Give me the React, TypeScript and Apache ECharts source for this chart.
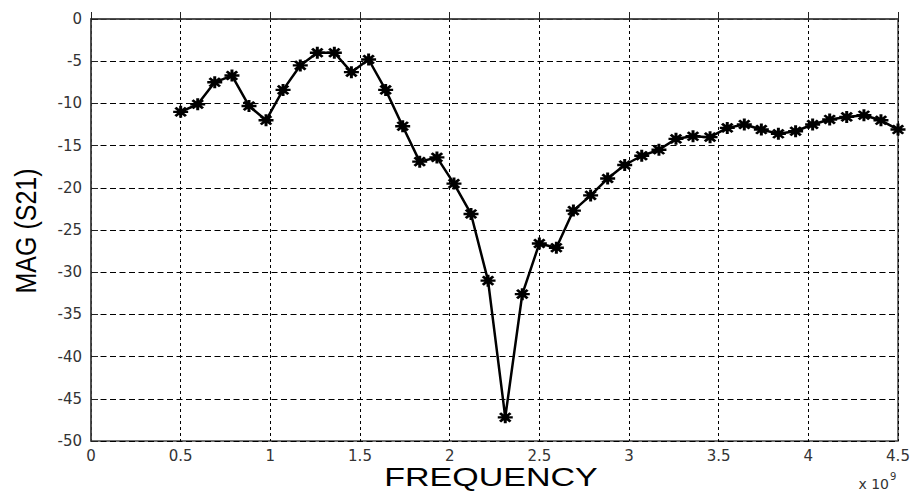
import React, { useEffect, useRef } from "react";
import * as echarts from "echarts";

const freqGHz: number[] = [
  0.5, 0.595, 0.69, 0.786, 0.881, 0.976, 1.071, 1.167, 1.262, 1.357, 1.452,
  1.548, 1.643, 1.738, 1.833, 1.929, 2.024, 2.119, 2.214, 2.31, 2.405, 2.5,
  2.595, 2.69, 2.786, 2.881, 2.976, 3.071, 3.167, 3.262, 3.357, 3.452, 3.548,
  3.643, 3.738, 3.833, 3.929, 4.024, 4.119, 4.214, 4.31, 4.405, 4.5,
];

const magS21: number[] = [
  -11.0, -10.1, -7.5, -6.7, -10.3, -12.0, -8.4, -5.5, -4.0, -4.0, -6.3,
  -4.8, -8.4, -12.7, -16.9, -16.4, -19.5, -23.1, -31.0, -47.2, -32.6, -26.6,
  -27.1, -22.7, -20.9, -18.9, -17.3, -16.2, -15.5, -14.2, -13.9, -14.0, -12.9,
  -12.5, -13.1, -13.6, -13.3, -12.5, -11.9, -11.6, -11.4, -12.0, -13.1,
];

const xTitle = "FREQUENCY";
const yTitle = "MAG (S21)";
const xExponent = "x 10";
const xExponentPower = "9";

const ASTERISK =
  "path://M0,8L20,8L20,12L0,12Z" +
  "M8,0L12,0L12,20L8,20Z" +
  "M4.41,1.59L18.41,15.59L15.59,18.41L1.59,4.41Z" +
  "M15.59,1.59L18.41,4.41L4.41,18.41L1.59,15.59Z";

export default function App() {
  const ref = useRef<HTMLDivElement>(null);

  useEffect(() => {
    document.body.style.margin = "0";
    if (!ref.current) return;
    const chart = echarts.init(ref.current, null, { renderer: "svg" });
    const labelStyle = {
      color: "#333",
      fontFamily: "DejaVu Sans",
      fontSize: 15,
    };
    chart.setOption({
      animation: false,
      backgroundColor: "#fff",
      grid: {
        left: 91,
        right: 16,
        top: 19,
        bottom: 50,
        show: true,
        borderColor: "#444",
        borderWidth: 1.5,
        backgroundColor: "transparent",
      },
      xAxis: {
        type: "value",
        min: 0,
        max: 4.5,
        interval: 0.5,
        axisLine: { show: true, lineStyle: { color: "#444", width: 1.5 } },
        axisTick: { show: true, inside: true, length: 7, lineStyle: { color: "#222", width: 1 } },
        axisLabel: { ...labelStyle, margin: 7 },
        splitLine: {
          show: true,
          lineStyle: { color: "#000", width: 1, type: [3, 3] },
        },
      },
      yAxis: {
        type: "value",
        min: -50,
        max: 0,
        interval: 5,
        axisLine: { show: true, lineStyle: { color: "#444", width: 1.5 } },
        axisTick: { show: true, inside: true, length: 7, lineStyle: { color: "#222", width: 1 } },
        axisLabel: { ...labelStyle, margin: 9 },
        splitLine: {
          show: true,
          lineStyle: { color: "#000", width: 1, type: [6, 3.5] },
        },
      },
      series: [
        {
          type: "line",
          data: freqGHz.map((f, i) => [f, magS21[i]]),
          lineStyle: { color: "#000", width: 2.5 },
          itemStyle: { color: "#000" },
          symbol: ASTERISK,
          symbolSize: [15, 12],
          symbolKeepAspect: false,
          showSymbol: true,
          z: 5,
        },
      ],
      graphic: [
        {
          type: "text",
          x: 491,
          y: 477,
          scaleX: 1.36,
          style: {
            text: xTitle,
            font: "25px 'Liberation Sans', Arial, sans-serif",
            fill: "#000",
            align: "center",
            verticalAlign: "middle",
          },
        },
        {
          type: "text",
          x: 26,
          y: 231,
          rotation: Math.PI / 2,
          scaleX: 1.0,
          scaleY: 1.2,
          style: {
            text: yTitle,
            font: "25px 'Liberation Sans', Arial, sans-serif",
            fill: "#000",
            align: "center",
            verticalAlign: "middle",
          },
        },
        {
          type: "text",
          x: 889,
          y: 484,
          style: {
            text: xExponent,
            font: "14px 'DejaVu Sans', sans-serif",
            fill: "#333",
            align: "right",
            verticalAlign: "middle",
          },
        },
        {
          type: "text",
          x: 890,
          y: 476,
          style: {
            text: xExponentPower,
            font: "10px 'DejaVu Sans', sans-serif",
            fill: "#333",
            align: "left",
            verticalAlign: "middle",
          },
        },
      ],
    });
    return () => chart.dispose();
  }, []);

  return <div ref={ref} style={{ width: 914, height: 491 }} />;
}
